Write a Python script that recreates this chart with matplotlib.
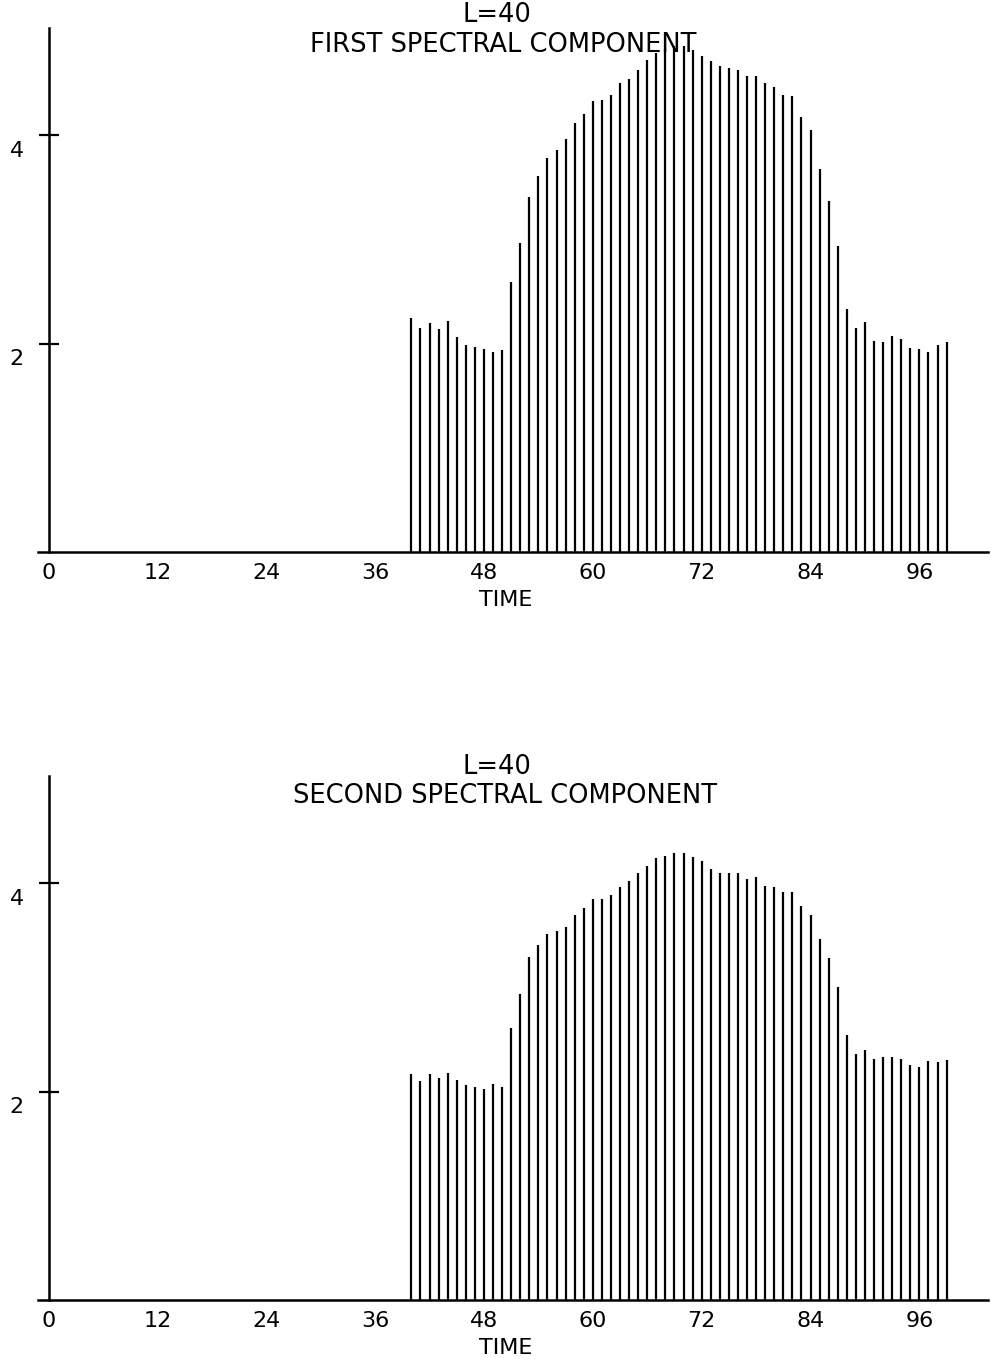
import numpy as np
import matplotlib
matplotlib.use('Agg')
import matplotlib.pyplot as plt
from matplotlib.transforms import ScaledTranslation

time = list(range(40, 100))
first = [2.25, 2.15, 2.20, 2.14, 2.22, 2.06, 1.99, 1.97, 1.95, 1.92,
         1.94, 2.59, 2.97, 3.41, 3.61, 3.78, 3.86, 3.96, 4.12, 4.20,
         4.33, 4.34, 4.39, 4.50, 4.54, 4.63, 4.72, 4.79, 4.83, 4.86,
         4.86, 4.82, 4.76, 4.71, 4.67, 4.65, 4.63, 4.57, 4.57, 4.50,
         4.46, 4.39, 4.38, 4.18, 4.05, 3.68, 3.37, 2.94, 2.33, 2.15,
         2.21, 2.03, 2.02, 2.07, 2.04, 1.96, 1.95, 1.92, 1.99, 2.02]
second = [2.17, 2.10, 2.17, 2.13, 2.18, 2.11, 2.06, 2.04, 2.03, 2.07,
          2.04, 2.61, 2.94, 3.29, 3.41, 3.51, 3.54, 3.58, 3.70, 3.76,
          3.85, 3.85, 3.89, 3.96, 4.02, 4.10, 4.17, 4.24, 4.26, 4.29,
          4.29, 4.25, 4.21, 4.14, 4.10, 4.10, 4.10, 4.04, 4.06, 3.97,
          3.96, 3.92, 3.92, 3.78, 3.70, 3.47, 3.28, 3.00, 2.54, 2.36,
          2.40, 2.31, 2.33, 2.33, 2.31, 2.26, 2.24, 2.29, 2.28, 2.30]
xticks = [0, 12, 24, 36, 48, 60, 72, 84, 96]
yticks = [2, 4]
titles = ['FIRST SPECTRAL COMPONENT', 'SECOND SPECTRAL COMPONENT']
subtitle = 'L=40'

plt.rcParams['font.family'] = ['DejaVu Sans']

W, H = 991, 1359
fig = plt.figure(figsize=(W / 100, H / 100), dpi=100)


def panel(bottom_px, values):
    """ one stem panel; bottom_px is the pixel row of y=0 """
    left, right = 37.7, 988.3
    top_px = bottom_px - 524
    ax = fig.add_axes([left / W, (H - bottom_px) / H,
                       (right - left) / W, (bottom_px - top_px) / H])
    ax.vlines(time, 0, values, color='black', lw=1.6)
    ax.set_xlim(-1.2, 103.6)
    ax.set_ylim(0, 5.03)

    # plotter-style axes: y axis at x=0, x axis along y=0
    for s in ['top', 'right']:
        ax.spines[s].set_visible(False)
    ax.spines['left'].set_position(('data', 0))
    ax.spines['left'].set_linewidth(1.8)
    ax.spines['bottom'].set_linewidth(1.8)

    ax.set_xticks(xticks)
    ax.set_xticklabels([str(t) for t in xticks])
    ax.tick_params(axis='x', length=0, pad=8, labelsize=16)
    ax.set_yticks(yticks)
    ax.set_yticklabels([str(t) for t in yticks])
    ax.tick_params(axis='y', direction='inout', length=14, width=1.6,
                   pad=11, labelsize=16)
    # labels sit a little below their ticks on the original
    shift = ScaledTranslation(0, -4 / 72, fig.dpi_scale_trans)
    for lab in ax.get_yticklabels():
        lab.set_va('top')
        lab.set_transform(lab.get_transform() + shift)

    ax.set_xlabel('TIME', fontsize=16)
    ax.xaxis.set_label_coords(0.492, -0.072)
    return ax


panel(552, first)
panel(1300, second)

# titles, two lines each, centred above each panel
fig.text(497 / W, 1 - 15 / H, subtitle, ha='center', va='center', fontsize=18.5)
fig.text(503 / W, 1 - 45 / H, titles[0], ha='center', va='center', fontsize=18.5)
fig.text(497 / W, 1 - 767 / H, subtitle, ha='center', va='center', fontsize=18.5)
fig.text(505 / W, 1 - 796 / H, titles[1], ha='center', va='center', fontsize=18.5)

fig.savefig('out.png', dpi=100, facecolor='white')
